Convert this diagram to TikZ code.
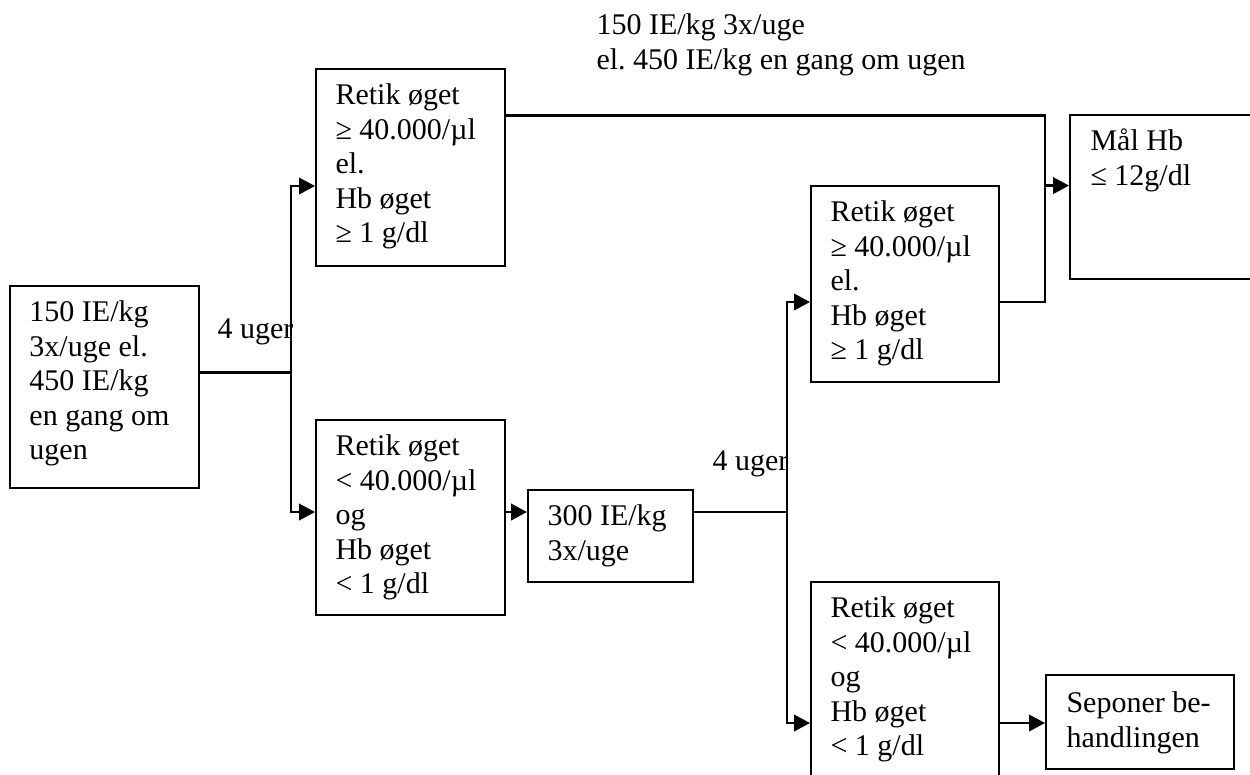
\documentclass[tikz,border=0pt]{standalone}
\usepackage{fontspec}
\setmainfont{Liberation Serif}
\usetikzlibrary{arrows.meta}
\frenchspacing
\begin{document}
\begin{tikzpicture}[x=0.4pt,y=-0.4pt,
  box/.style={draw,line width=0.8pt,inner sep=0pt,rectangle},
  txt/.style={anchor=north west,inner sep=0pt,align=left,font=\fontsize{12}{13.8}\selectfont\frenchspacing},
  lbl/.style={anchor=base west,inner sep=0pt,font=\fontsize{12}{13.8}\selectfont},
  ln/.style={line width=0.9pt},
  arr/.style={line width=0.9pt,-{Triangle[length=6.4pt,width=6.6pt]}}]
\useasboundingbox (0,0) rectangle (1250,774);
\clip (0,0) rectangle (1250,774);
% boxes
\node[box,minimum width=75.6pt,minimum height=80.8pt] (A) at (104.5,387) {};
\node[box,minimum width=75.6pt,minimum height=78.8pt] (B) at (410.5,167.5) {};
\node[box,minimum width=75.6pt,minimum height=78pt] (C) at (410.5,517.5) {};
\node[box,minimum width=66pt,minimum height=36.8pt] (D) at (610.5,536) {};
\node[box,minimum width=75.2pt,minimum height=78.4pt] (E) at (905,284) {};
\node[box,minimum width=92pt,minimum height=65.6pt] (F) at (1185,197) {};
\node[box,minimum width=75.2pt,minimum height=95.2pt] (G) at (905,701) {};
\node[box,minimum width=75.2pt,minimum height=37.6pt] (H) at (1140,722) {};
% texts
\node[txt] (tA) at ([shift={(20,12)}]A.north west) {\strut 150 IE/kg\\3x/uge el.\\450 IE/kg\\en gang om\\ugen};
\node[txt] (tB) at ([shift={(20,12)}]B.north west) {\strut Retik øget\\≥ 40.000/µl\\el.\\Hb øget\\≥ 1 g/dl};
\node[txt] (tC) at ([shift={(20,12)}]C.north west) {\strut Retik øget\\< 40.000/µl\\og\\Hb øget\\< 1 g/dl};
\node[txt] (tD) at ([shift={(20,12)}]D.north west) {\strut 300 IE/kg\\3x/uge};
\node[txt] (tE) at ([shift={(20,12)}]E.north west) {\strut Retik øget\\≥ 40.000/µl\\el.\\Hb øget\\≥ 1 g/dl};
\node[txt] (tF) at ([shift={(21,12)}]F.north west) {\strut Mål Hb\\≤ 12g/dl};
\node[txt] (tG) at ([shift={(20,12)}]G.north west) {\strut Retik øget\\< 40.000/µl\\og\\Hb øget\\< 1 g/dl};
\node[txt] (tH) at ([shift={(21,14)}]H.north west) {\strut Seponer be-\\handlingen};
\node[txt] (title) at (596,10) {\strut 150 IE/kg 3x/uge\\el. 450 IE/kg en gang om ugen};
\node[lbl] (u1) at (217,338) {4 uger};
\node[lbl] (u2) at (712,470) {4 uger};
% junctions
\coordinate (j1) at (291,372.6);
\coordinate (j1t) at (291,186);
\coordinate (j1b) at (291,512);
\coordinate (j3) at (1045,115.5);
\coordinate (j4) at (1045,302);
\coordinate (j5) at (1045,185.6);
\coordinate (j6) at (787,512);
\coordinate (j6t) at (787,302);
\coordinate (j6b) at (787,723);
% connectors
\draw[ln] (A.east |- j1) -- (j1);
\draw[arr] (j1) -- (j1t) -- (B.west |- j1t);
\draw[arr] (j1) -- (j1b) -- (C.west |- j1b);
\draw[ln] (B.east |- j3) -- (j3) -- (j4) -- (E.east |- j4);
\draw[arr] (j5) -- (F.west |- j5);
\draw[arr] (C.east |- j1b) -- (D.west |- j1b);
\draw[ln] (D.east |- j6) -- (j6);
\draw[arr] (j6) -- (j6t) -- (E.west |- j6t);
\draw[arr] (j6) -- (j6b) -- (G.west |- j6b);
\draw[arr] (G.east |- j6b) -- (H.west |- j6b);
\end{tikzpicture}
\end{document}
